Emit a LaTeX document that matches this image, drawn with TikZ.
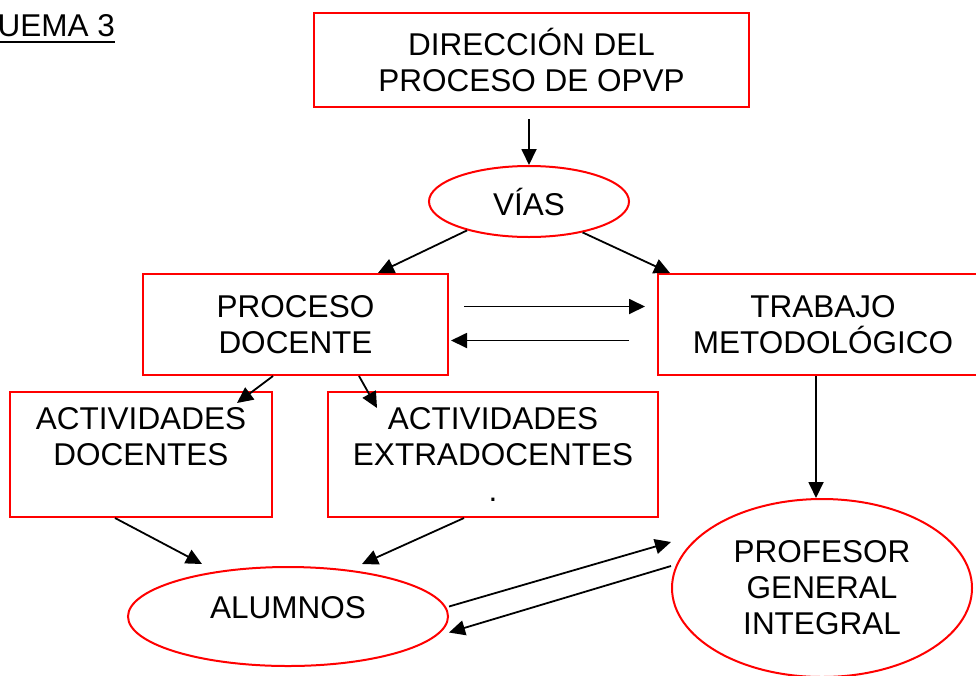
\documentclass[tikz,border=0pt]{standalone}
\usepackage{fontspec}
\setmainfont{Liberation Sans}
\usetikzlibrary{shapes.geometric,arrows.meta}

\begin{document}
\begin{tikzpicture}[x=1pt,y=-1pt,
    every node/.style={font=\fontsize{31.5pt}{36pt}\selectfont, inner sep=0pt, align=center},
    caja/.style={draw=red, line width=2pt, rectangle},
    elipse/.style={draw=red, line width=2pt, ellipse},
    arr/.style={line width=1.8pt, -{Triangle[length=16pt,width=15pt]}}]
            \useasboundingbox (0,0) rectangle (976,675);

            \node[anchor=base west] (titulo) at (-2.5,36) {UEMA 3};
            \draw[line width=2pt] ([yshift=-6pt]titulo.base west) -- ([yshift=-6pt]titulo.base east);

            \node[caja, minimum width=435pt, minimum height=94pt] (dir) at (531.5,60) {DIRECCIÓN DEL\\PROCESO DE OPVP};
            \node[elipse, minimum width=200pt, minimum height=71pt] (vias) at (529,201.5) {VÍAS};
            \node[caja, minimum width=305pt, minimum height=101pt] (proc) at (295.5,324.5) {PROCESO\\DOCENTE};
            \node[caja, minimum width=330pt, minimum height=101pt] (trab) at (823,324.5) {TRABAJO\\METODOLÓGICO};
            \node[caja, minimum width=262pt, minimum height=125pt] (actdoc) at (141,454.5) {ACTIVIDADES\\DOCENTES\\~};
            \node[caja, minimum width=330pt, minimum height=125pt] (actext) at (493,454.5) {ACTIVIDADES\\EXTRADOCENTES\\.};
            \node[elipse, minimum width=320pt, minimum height=99pt, text depth=18pt] (alum) at (288,616.5) {ALUMNOS};
            \node[elipse, minimum width=300pt, minimum height=178pt] (prof) at (822,588) {PROFESOR\\GENERAL\\INTEGRAL};

            \draw[arr, shorten <=11pt] (vias.north |- dir.south) -- (vias.north);
            \draw[arr] (vias.205) -- ([xshift=82.5pt]proc.north);
            \draw[arr] (vias.330) -- ([xshift=-153pt]trab.north);
            \draw[arr, shorten <=15pt, shorten >=12pt] ([yshift=18pt]proc.east) -- ([yshift=18pt]trab.west);
            \draw[arr, shorten <=28pt, shorten >=2pt] ([yshift=-16pt]trab.west) -- ([yshift=-16pt]proc.east);
            \draw[arr] ([xshift=-22.5pt]proc.south) -- ([xshift=96pt,yshift=-12pt]actdoc.north);
            \draw[arr] ([xshift=63.5pt]proc.south) -- ([xshift=-116pt,yshift=-17pt]actext.north);
            \draw[arr] ([xshift=-7pt]trab.south) -- ([xshift=-6pt]prof.north);
            \draw[arr] ([xshift=-26pt]actdoc.south) -- ([xshift=-86pt,yshift=2pt]alum.north);
            \draw[arr] ([xshift=-29pt]actext.south) -- ([xshift=74pt,yshift=2pt]alum.north);
            \draw[arr] ([yshift=10pt]alum.east) -- ([yshift=46pt]prof.west);
            \draw[arr] ([yshift=22pt]prof.west) -- ([yshift=-16pt]alum.east);
        \end{tikzpicture}
\end{document}
